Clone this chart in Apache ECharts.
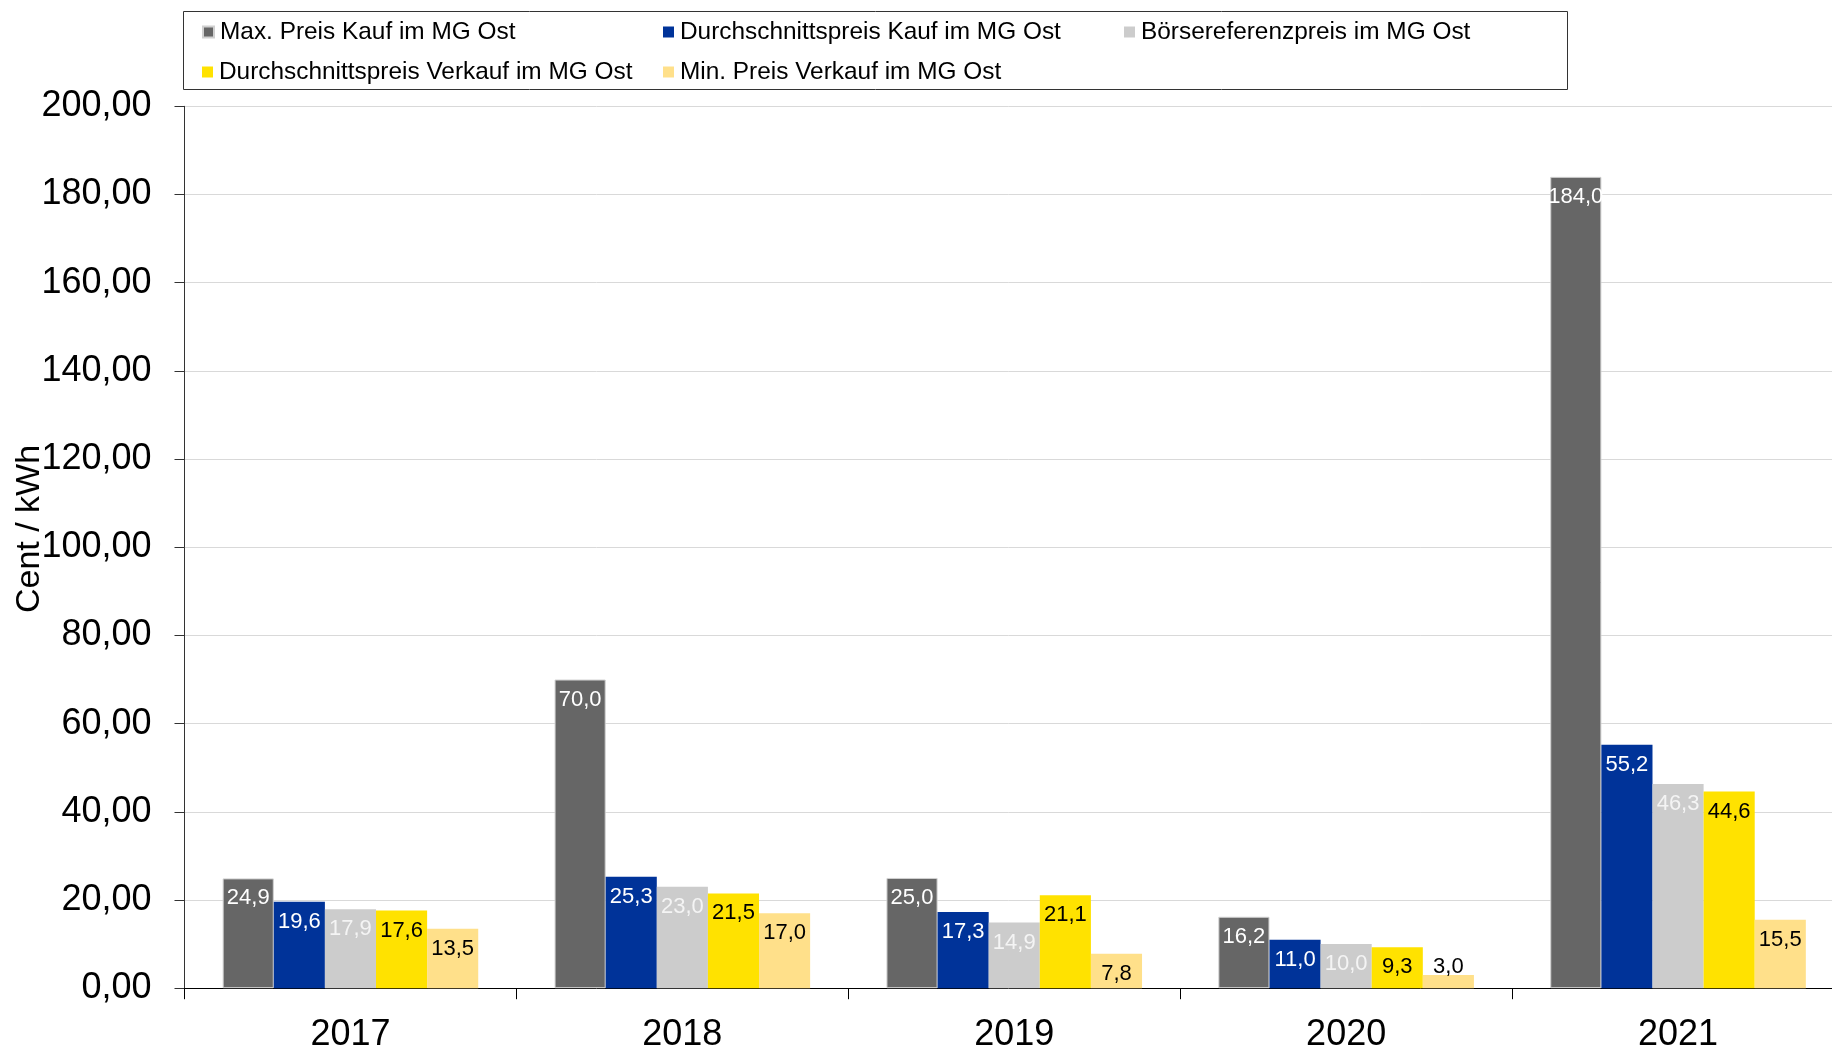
<!DOCTYPE html>
<html>
<head>
<meta charset="utf-8">
<script src="https://cdn.jsdelivr.net/npm/echarts@6/dist/echarts.min.js"></script>
<style>
  html, body { margin: 0; padding: 0; background: #ffffff; }
  #chart { width: 1832px; height: 1050px; }
</style>
</head>
<body>
<div id="chart"></div>
<script>
// Jahre auf der Kategorienachse
const years = ['2017', '2018', '2019', '2020', '2021'];

// Preise in Cent / kWh je Reihe
const maxPreisKauf = [24.9, 70.0, 25.0, 16.2, 184.0];
const avgPreisKauf = [19.6, 25.3, 17.3, 11.0, 55.2];
const boersePreis = [17.9, 23.0, 14.9, 10.0, 46.3];
const avgPreisVerkauf = [17.6, 21.5, 21.1, 9.3, 44.6];
const minPreisVerkauf = [13.5, 17.0, 7.8, 3.0, 15.5];

// Reihennamen
const seriesNames = [
  'Max. Preis Kauf im MG Ost',
  'Durchschnittspreis Kauf im MG Ost',
  'Börsereferenzpreis im MG Ost',
  'Durchschnittspreis Verkauf im MG Ost',
  'Min. Preis Verkauf im MG Ost'
];

const FONT = '"Liberation Sans", Arial, sans-serif';
const fmt1 = v => v.toFixed(1).replace('.', ',');
const fmt2 = v => v.toFixed(2).replace('.', ',');

const styles = [
  { color: '#666666', label: '#ffffff', border: '#d0d0d0' },
  { color: '#003399', label: '#ffffff' },
  { color: '#cccccc', label: '#f4f4f4' },
  { color: '#ffe200', label: '#000000' },
  { color: '#ffe08a', label: '#000000' }
];
const values = [maxPreisKauf, avgPreisKauf, boersePreis, avgPreisVerkauf, minPreisVerkauf];

// Sehr kleine Balken: Beschriftung oberhalb statt innen
function toData(arr) {
  return arr.map(v => v < 5
    ? { value: v, label: { position: 'top', distance: -3 } }
    : v);
}

const series = values.map((arr, i) => ({
  name: seriesNames[i],
  type: 'bar',
  data: toData(arr),
  barGap: '0%',
  barCategoryGap: '23%',
  itemStyle: {
    color: styles[i].color,
    borderColor: styles[i].border || styles[i].color,
    borderWidth: styles[i].border ? 1 : 0
  },
  label: {
    show: true,
    position: 'insideTop',
    distance: 9,
    formatter: p => fmt1(p.value),
    color: styles[i].label,
    fontFamily: FONT,
    fontSize: 22
  }
}));

// Legende in drei festen Spalten, zwei Zeilen
const legendPos = [
  { left: 202, top: 20 },
  { left: 663, top: 20 },
  { left: 1124, top: 20 },
  { left: 202, top: 60 },
  { left: 663, top: 60 }
];
const legends = seriesNames.map((n, i) => ({
  data: [n],
  left: legendPos[i].left,
  top: legendPos[i].top,
  padding: 0,
  icon: 'rect',
  itemWidth: 11,
  itemHeight: 11,
  itemGap: 0,
  selectedMode: false,
  textStyle: { fontFamily: FONT, fontSize: 24.4, color: '#000000', padding: [0, 0, 0, 1] }
}));

const chart = echarts.init(document.getElementById('chart'), null, { renderer: 'canvas' });
chart.setOption({
  animation: false,
  backgroundColor: '#ffffff',
  legend: legends,
  graphic: [
    {
      type: 'rect',
      shape: { x: 183.5, y: 11.5, width: 1384, height: 78 },
      style: { fill: 'none', stroke: '#333333', lineWidth: 1 },
      z: 0
    },
    {
      // Achsentitel der Werteachse
      type: 'text',
      x: 29.5, y: 529,
      rotation: Math.PI / 2,
      style: {
        text: 'Cent / kWh',
        font: '34px "Liberation Sans", Arial, sans-serif',
        fill: '#000000',
        textAlign: 'center',
        textVerticalAlign: 'middle'
      },
      z: 10
    }
  ],
  grid: {
    left: 184.5, top: 106.3, bottom: 61.8, right: -12,
    containLabel: false,
    outerBoundsMode: 'none'
  },
  xAxis: {
    type: 'category',
    data: years,
    axisLine: { lineStyle: { color: '#000000', width: 1 } },
    axisTick: { show: true, length: 11, alignWithLabel: false, lineStyle: { color: '#000000' } },
    axisLabel: { fontFamily: FONT, fontSize: 36, color: '#000000', margin: 29 }
  },
  yAxis: {
    type: 'value',
    min: 0, max: 200, interval: 20,
    axisLine: { show: true, lineStyle: { color: '#333333', width: 1 } },
    axisTick: { show: true, length: 10, lineStyle: { color: '#333333' } },
    axisLabel: {
      fontFamily: FONT, fontSize: 36, color: '#000000', margin: 33,
      padding: [4, 0, 0, 0],
      formatter: v => fmt2(v)
    },
    splitLine: { show: true, lineStyle: { color: '#d9d9d9', width: 1 } }
  },
  series: series
});
</script>
</body>
</html>
